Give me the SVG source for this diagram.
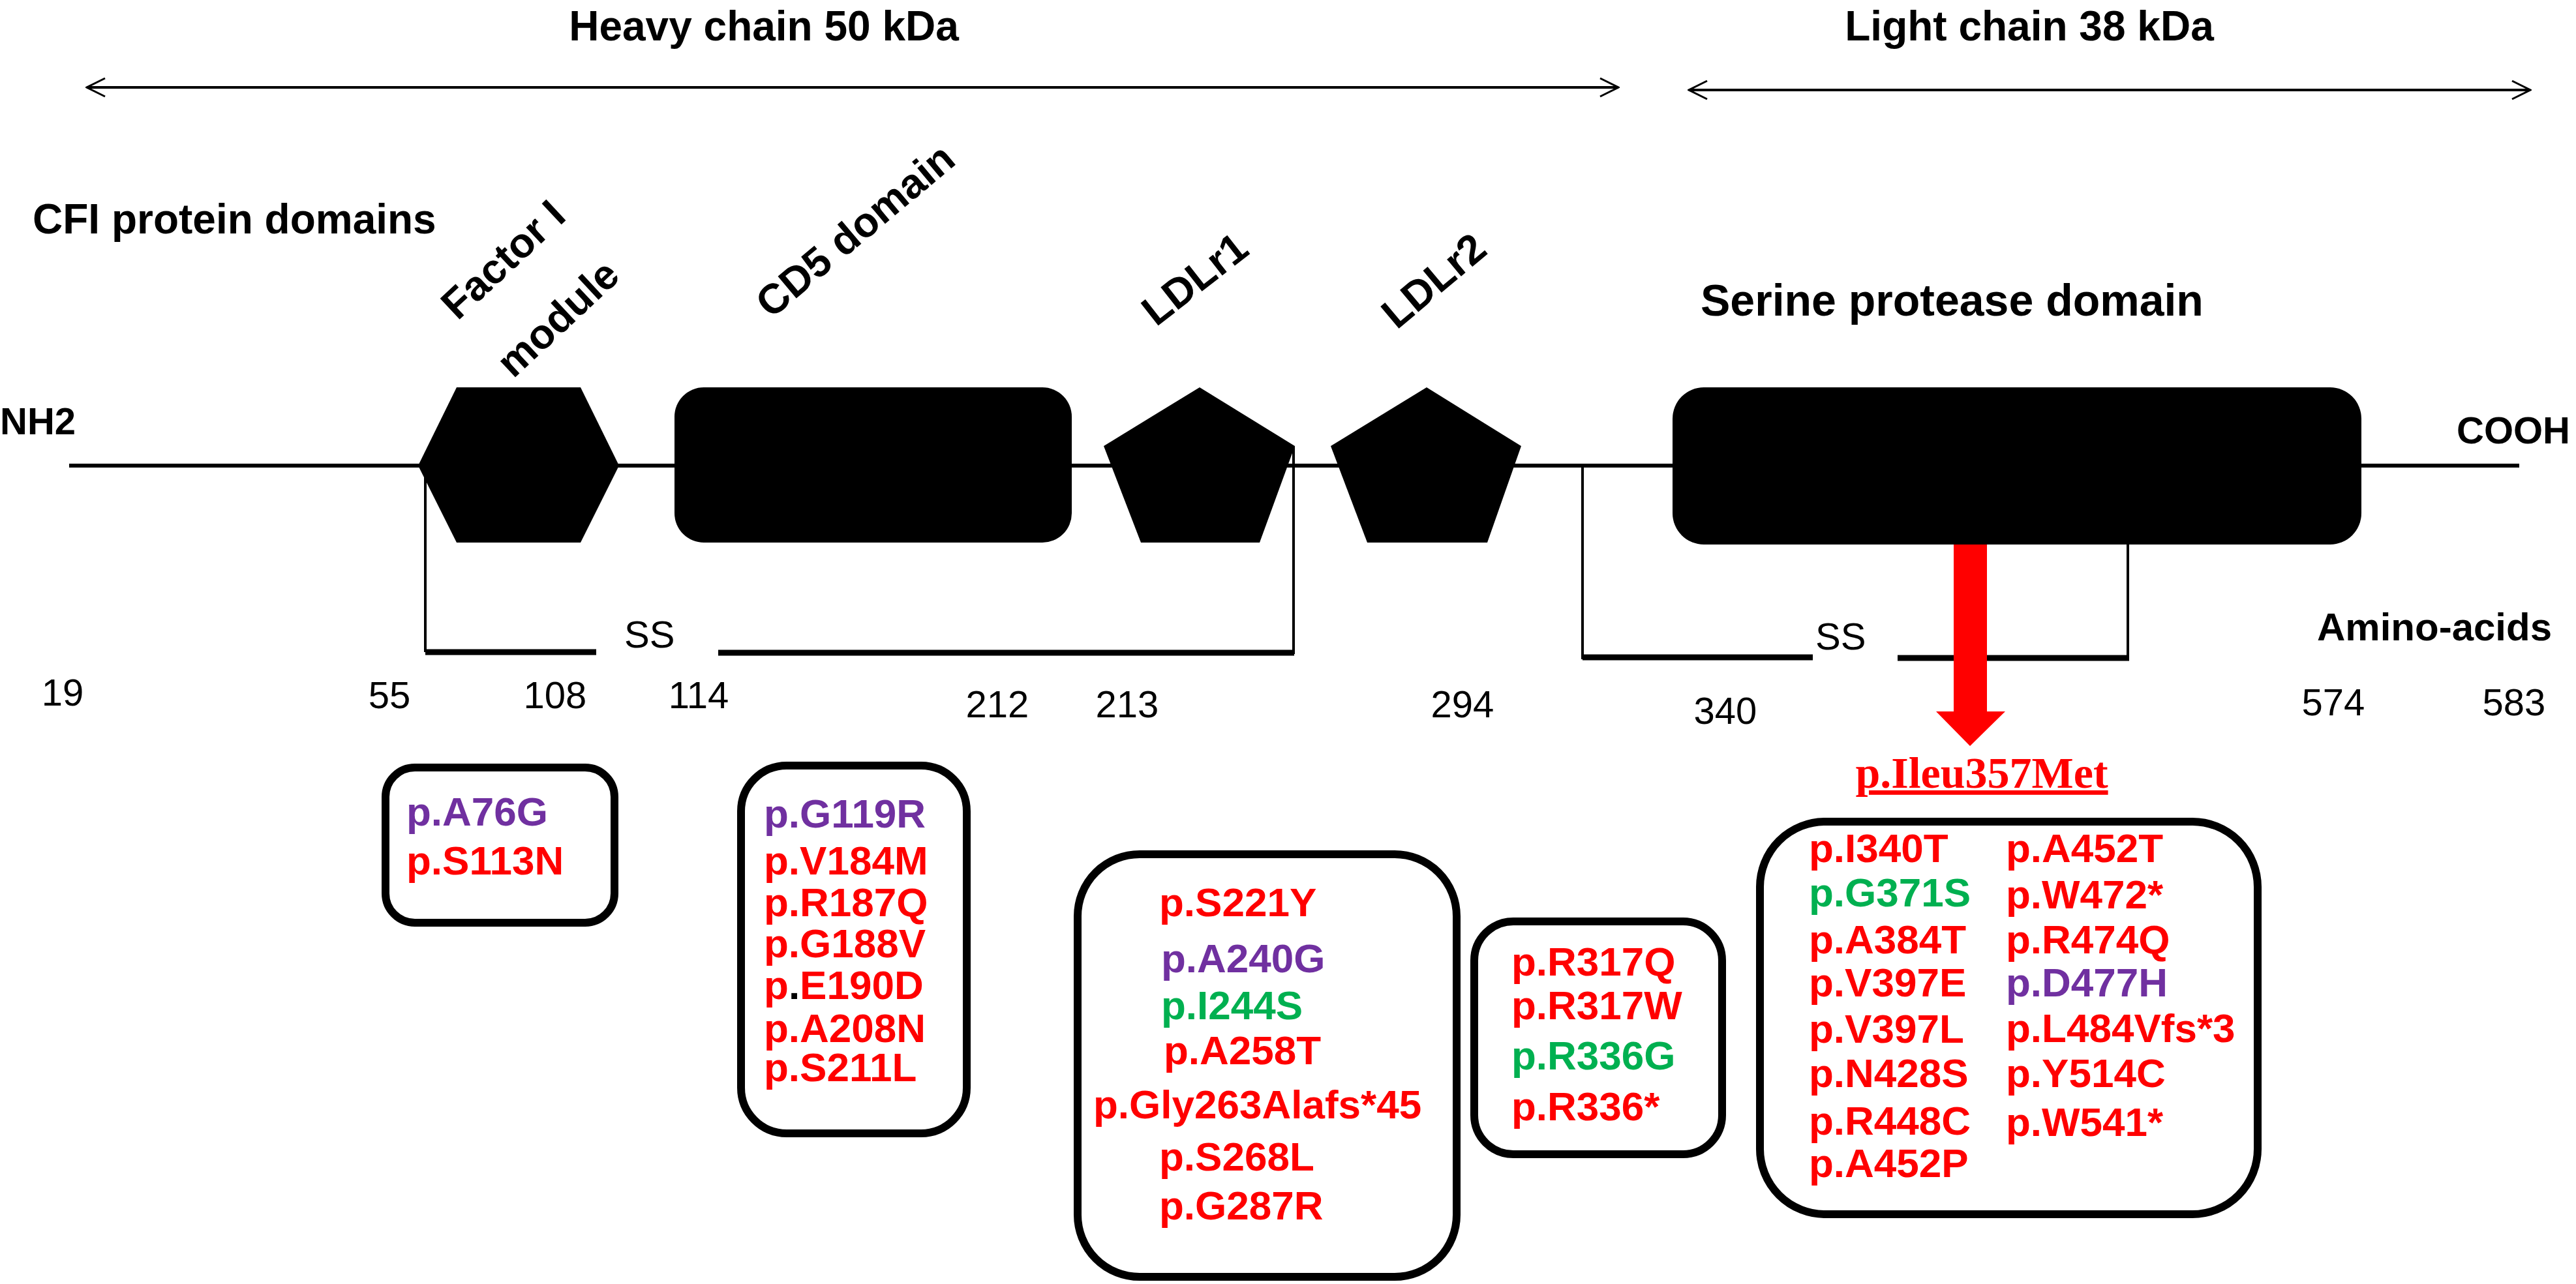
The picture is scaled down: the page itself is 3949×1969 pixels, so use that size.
<svg xmlns="http://www.w3.org/2000/svg" width="3949" height="1969" viewBox="0 0 3949 1969">
<style>
.h{font-family:"Liberation Sans",Arial,sans-serif;font-weight:bold;font-size:64px;fill:#000}
.n{font-family:"Liberation Sans",Arial,sans-serif;font-size:58px;fill:#000}
.m{font-family:"Liberation Sans",Arial,sans-serif;font-weight:bold;font-size:62px}
.r{fill:#ff0000}.p{fill:#7030a0}.g{fill:#00b050}
.ln{stroke:#000;stroke-width:4;fill:none}
.thk{stroke:#000;stroke-width:9;fill:none}
.bx{stroke:#000;stroke-width:12;fill:#fff}
</style>
<defs>
<marker id="ah" markerWidth="34" markerHeight="34" refX="32" refY="17" orient="auto-start-reverse" markerUnits="userSpaceOnUse"><path d="M4,3 L32,17 L4,31" fill="none" stroke="#000" stroke-width="3"/></marker>
</defs>
<rect width="3949" height="1969" fill="#fff"/>
<g id="header">
<text class="h" x="1171" y="62" text-anchor="middle">Heavy chain 50 kDa</text>
<text class="h" x="3111" y="62" text-anchor="middle">Light chain 38 kDa</text>
<text class="h" x="50" y="358">CFI protein domains</text>
<text class="h" x="0" y="666" style="font-size:58px">NH2</text>
<text class="h" x="3766" y="680" style="font-size:58px">COOH</text>
<text class="h" x="3552" y="982" style="font-size:60px">Amino-acids</text>
</g>
<g id="connectors">
<line class="ln" x1="133" y1="134" x2="2481" y2="134" marker-start="url(#ah)" marker-end="url(#ah)"/>
<line class="ln" x1="2589" y1="138" x2="3879" y2="138" marker-start="url(#ah)" marker-end="url(#ah)"/>
<line x1="106" y1="714" x2="3862" y2="714" stroke="#000" stroke-width="6"/>
<path class="ln" d="M652,714 V1000"/>
<path class="thk" d="M652,1000 H914 M1101,1001 H1984"/>
<path class="ln" d="M1983,684 V1003"/>
<path class="ln" d="M2426,714 V1011 M3262,835 V1011"/>
<path class="thk" d="M2426,1008 H2779 M2909,1009 H3264"/>
<path d="M2995,835 H3046 V1091 H3074 L3020,1144 L2968,1091 H2995 Z" fill="#ff0000"/>
</g>
<g id="factorI">
<polygon points="641,714 700,594 890,594 949,714 890,832 700,832"/>
<text class="h" transform="translate(786,414) rotate(-43)" text-anchor="middle">Factor I</text>
<text class="h" transform="translate(870,504) rotate(-43)" text-anchor="middle">module</text>
</g>
<g id="cd5">
<rect x="1034" y="594" width="609" height="238" rx="45"/>
<text class="h" transform="translate(1325,370) rotate(-40)" text-anchor="middle">CD5 domain</text>
</g>
<g id="ldlr1">
<polygon points="1839,594 1985,684 1931,832 1749,832 1692,684"/>
<text class="h" transform="translate(1845,445) rotate(-38)" text-anchor="middle">LDLr1</text>
</g>
<g id="ldlr2">
<polygon points="2187,594 2332,684 2280,832 2096,832 2040,684"/>
<text class="h" transform="translate(2212,447) rotate(-40)" text-anchor="middle">LDLr2</text>
</g>
<g id="serine">
<rect x="2564" y="594" width="1056" height="241" rx="48"/>
<text class="h" x="2607" y="484" style="font-size:68px">Serine protease domain</text>
</g>
<g id="labels">
<text class="n" x="957" y="993">SS</text>
<text class="n" x="2783" y="996">SS</text>
<text class="n" x="96" y="1082" text-anchor="middle">19</text>
<text class="n" x="597" y="1086" text-anchor="middle">55</text>
<text class="n" x="851" y="1086" text-anchor="middle">108</text>
<text class="n" x="1071" y="1086" text-anchor="middle">114</text>
<text class="n" x="1529" y="1100" text-anchor="middle">212</text>
<text class="n" x="1728" y="1100" text-anchor="middle">213</text>
<text class="n" x="2242" y="1100" text-anchor="middle">294</text>
<text class="n" x="2645" y="1110" text-anchor="middle">340</text>
<text class="n" x="3577" y="1097" text-anchor="middle">574</text>
<text class="n" x="3854" y="1097" text-anchor="middle">583</text>
<text x="3038" y="1208" text-anchor="middle" text-decoration="underline" style="font-family:'Liberation Serif','Times New Roman',serif;font-weight:bold;font-size:68px;fill:#ff0000">p.Ileu357Met</text>
</g>
<g id="box1">
<rect class="bx" x="591" y="1177" width="351" height="238" rx="45"/>
<text class="m p" x="623" y="1266">p.A76G</text>
<text class="m r" x="623" y="1341">p.S113N</text>
</g>
<g id="box2">
<rect class="bx" x="1136" y="1174" width="346" height="564" rx="70"/>
<text class="m p" x="1171" y="1269">p.G119R</text>
<text class="m r" x="1171" y="1341">p.V184M</text>
<text class="m r" x="1171" y="1405">p.R187Q</text>
<text class="m r" x="1171" y="1468">p.G188V</text>
<text class="m r" x="1171" y="1532">p<tspan fill="#000">.</tspan>E190D</text>
<text class="m r" x="1171" y="1598">p.A208N</text>
<text class="m r" x="1171" y="1658">p.S211L</text>
</g>
<g id="box3">
<rect class="bx" x="1652" y="1310" width="581" height="648" rx="95"/>
<text class="m r" x="1777" y="1405">p.S221Y</text>
<text class="m p" x="1780" y="1491">p.A240G</text>
<text class="m g" x="1780" y="1563">p.I244S</text>
<text class="m r" x="1784" y="1632">p.A258T</text>
<text class="m r" x="1676" y="1715">p.Gly263Alafs*45</text>
<text class="m r" x="1777" y="1795">p.S268L</text>
<text class="m r" x="1777" y="1870">p.G287R</text>
</g>
<g id="box4">
<rect class="bx" x="2260" y="1413" width="380" height="357" rx="60"/>
<text class="m r" x="2317" y="1496">p.R317Q</text>
<text class="m r" x="2317" y="1563">p.R317W</text>
<text class="m g" x="2317" y="1640">p.R336G</text>
<text class="m r" x="2317" y="1718">p.R336*</text>
</g>
<g id="box5">
<rect class="bx" x="2698" y="1260" width="763" height="602" rx="100"/>
<text class="m r" x="2773" y="1322">p.I340T</text>
<text class="m g" x="2773" y="1390">p.G371S</text>
<text class="m r" x="2773" y="1462">p.A384T</text>
<text class="m r" x="2773" y="1528">p.V397E</text>
<text class="m r" x="2773" y="1599">p.V397L</text>
<text class="m r" x="2773" y="1667">p.N428S</text>
<text class="m r" x="2773" y="1740">p.R448C</text>
<text class="m r" x="2773" y="1805">p.A452P</text>
<text class="m r" x="3075" y="1322">p.A452T</text>
<text class="m r" x="3075" y="1393">p.W472*</text>
<text class="m r" x="3075" y="1462">p.R474Q</text>
<text class="m p" x="3075" y="1528">p.D477H</text>
<text class="m r" x="3075" y="1598">p.L484Vfs*3</text>
<text class="m r" x="3075" y="1667">p.Y514C</text>
<text class="m r" x="3075" y="1742">p.W541*</text>
</g>
</svg>
